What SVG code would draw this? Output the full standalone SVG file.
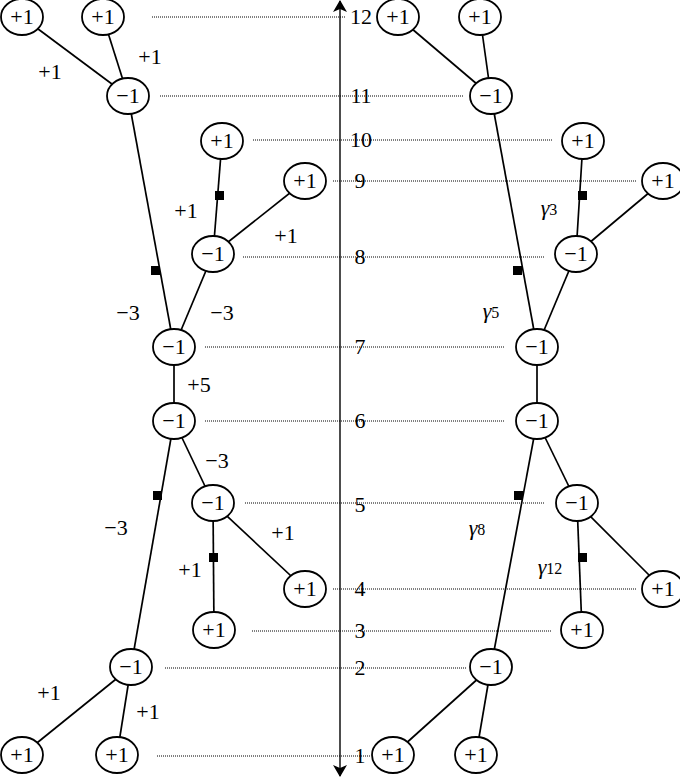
<svg xmlns="http://www.w3.org/2000/svg" width="680" height="784" viewBox="0 0 680 784">
<style>
.n ellipse{fill:#fff;stroke:#000;stroke-width:1.8}
.e line{stroke:#000;stroke-width:1.7}
.d line{stroke:#000;stroke-width:1;stroke-dasharray:1,1}
.sq{fill:#000}
text{font-family:"Liberation Serif","DejaVu Serif",serif;font-size:22px;text-anchor:middle;fill:#000}
</style>
<defs>
<marker id="ah" viewBox="0 0 12 20" refX="11" refY="10" markerWidth="12" markerHeight="20" markerUnits="userSpaceOnUse" orient="auto">
<path d="M0,3 L12,10 L0,17 L3,10 Z" fill="#000"/>
</marker>
</defs>
<g class="d">
<line x1="152" y1="17" x2="345" y2="17"/>
<line x1="160" y1="96" x2="463" y2="96"/>
<line x1="253" y1="140" x2="553" y2="140"/>
<line x1="333" y1="181" x2="636" y2="181"/>
<line x1="243" y1="257" x2="545" y2="257"/>
<line x1="205" y1="347" x2="505" y2="347"/>
<line x1="205" y1="421" x2="505" y2="421"/>
<line x1="245" y1="503" x2="545" y2="503"/>
<line x1="333" y1="589" x2="636" y2="589"/>
<line x1="252" y1="631" x2="552" y2="631"/>
<line x1="165" y1="668" x2="467" y2="668"/>
<line x1="157" y1="756" x2="371" y2="756"/>
</g>
<g id="axis">
<line x1="340" y1="392" x2="340" y2="1" stroke="#000" stroke-width="1.4" marker-end="url(#ah)"/>
<line x1="340" y1="392" x2="340" y2="776" stroke="#000" stroke-width="1.4" marker-end="url(#ah)"/>
<text x="361" y="24">12</text>
<text x="361" y="103">11</text>
<text x="361" y="147">10</text>
<text x="360" y="188">9</text>
<text x="360" y="264">8</text>
<text x="360" y="354">7</text>
<text x="360" y="428">6</text>
<text x="360" y="512">5</text>
<text x="360" y="596">4</text>
<text x="360" y="638">3</text>
<text x="360" y="675">2</text>
<text x="360" y="763">1</text>
</g>
<g class="e" id="connectors">
<line x1="22" y1="17" x2="128" y2="96"/>
<line x1="103" y1="17" x2="128" y2="96"/>
<line x1="128" y1="96" x2="174" y2="347"/>
<line x1="222" y1="141" x2="213" y2="254"/>
<line x1="305" y1="181" x2="213" y2="254"/>
<line x1="213" y1="254" x2="174" y2="347"/>
<line x1="174" y1="347" x2="174" y2="421"/>
<line x1="174" y1="421" x2="213" y2="503"/>
<line x1="174" y1="421" x2="131" y2="667"/>
<line x1="213" y1="503" x2="305" y2="589"/>
<line x1="213" y1="503" x2="214" y2="630"/>
<line x1="131" y1="667" x2="22" y2="755"/>
<line x1="131" y1="667" x2="117" y2="755"/>
<line x1="398" y1="17" x2="491" y2="96"/>
<line x1="480" y1="17" x2="491" y2="96"/>
<line x1="491" y1="96" x2="537" y2="347"/>
<line x1="583" y1="141" x2="576" y2="254"/>
<line x1="663" y1="181" x2="576" y2="254"/>
<line x1="576" y1="254" x2="537" y2="347"/>
<line x1="537" y1="347" x2="537" y2="421"/>
<line x1="537" y1="421" x2="577" y2="503"/>
<line x1="537" y1="421" x2="491" y2="667"/>
<line x1="577" y1="503" x2="663" y2="589"/>
<line x1="577" y1="503" x2="582" y2="630"/>
<line x1="491" y1="667" x2="393" y2="755"/>
<line x1="491" y1="667" x2="476" y2="755"/>
<rect class="sq" x="151" y="266" width="9" height="9"/>
<rect class="sq" x="215" y="191" width="9" height="9"/>
<rect class="sq" x="153" y="491" width="9" height="9"/>
<rect class="sq" x="209" y="553" width="9" height="9"/>
<rect class="sq" x="513" y="266" width="9" height="9"/>
<rect class="sq" x="578" y="191" width="9" height="9"/>
<rect class="sq" x="514" y="491" width="9" height="9"/>
<rect class="sq" x="578" y="553" width="9" height="9"/>
</g>
<g id="edge-labels">
<text x="50" y="79">+1</text>
<text x="150" y="64">+1</text>
<text x="128" y="320">−3</text>
<text x="186" y="218">+1</text>
<text x="286" y="243">+1</text>
<text x="222" y="320">−3</text>
<text x="199" y="392">+5</text>
<text x="217" y="468">−3</text>
<text x="116" y="535">−3</text>
<text x="283" y="540">+1</text>
<text x="190" y="577">+1</text>
<text x="49" y="700">+1</text>
<text x="148" y="719">+1</text>
<text x="549" y="215"><tspan font-style="italic">γ</tspan><tspan font-size="16">3</tspan></text>
<text x="491" y="318"><tspan font-style="italic">γ</tspan><tspan font-size="16">5</tspan></text>
<text x="477" y="535"><tspan font-style="italic">γ</tspan><tspan font-size="16">8</tspan></text>
<text x="550" y="574"><tspan font-style="italic">γ</tspan><tspan font-size="16">12</tspan></text>
</g>
<g class="n" id="L1"><ellipse cx="22" cy="17" rx="21" ry="18"/><text x="22" y="24">+1</text></g>
<g class="n" id="L2"><ellipse cx="103" cy="17" rx="21" ry="18"/><text x="103" y="24">+1</text></g>
<g class="n" id="L3"><ellipse cx="128" cy="96" rx="21" ry="18"/><text x="128" y="103">−1</text></g>
<g class="n" id="L4"><ellipse cx="222" cy="141" rx="21" ry="18"/><text x="222" y="148">+1</text></g>
<g class="n" id="L5"><ellipse cx="305" cy="181" rx="21" ry="18"/><text x="305" y="188">+1</text></g>
<g class="n" id="L6"><ellipse cx="213" cy="254" rx="21" ry="18"/><text x="213" y="261">−1</text></g>
<g class="n" id="L7"><ellipse cx="174" cy="347" rx="21" ry="18"/><text x="174" y="354">−1</text></g>
<g class="n" id="L8"><ellipse cx="174" cy="421" rx="21" ry="18"/><text x="174" y="428">−1</text></g>
<g class="n" id="L9"><ellipse cx="213" cy="503" rx="21" ry="18"/><text x="213" y="510">−1</text></g>
<g class="n" id="L10"><ellipse cx="305" cy="589" rx="21" ry="18"/><text x="305" y="596">+1</text></g>
<g class="n" id="L11"><ellipse cx="214" cy="630" rx="21" ry="18"/><text x="214" y="637">+1</text></g>
<g class="n" id="L12"><ellipse cx="131" cy="667" rx="21" ry="18"/><text x="131" y="674">−1</text></g>
<g class="n" id="L13"><ellipse cx="22" cy="755" rx="21" ry="18"/><text x="22" y="762">+1</text></g>
<g class="n" id="L14"><ellipse cx="117" cy="755" rx="21" ry="18"/><text x="117" y="762">+1</text></g>
<g class="n" id="R1"><ellipse cx="398" cy="17" rx="21" ry="18"/><text x="398" y="24">+1</text></g>
<g class="n" id="R2"><ellipse cx="480" cy="17" rx="21" ry="18"/><text x="480" y="24">+1</text></g>
<g class="n" id="R3"><ellipse cx="491" cy="96" rx="21" ry="18"/><text x="491" y="103">−1</text></g>
<g class="n" id="R4"><ellipse cx="583" cy="141" rx="21" ry="18"/><text x="583" y="148">+1</text></g>
<g class="n" id="R5"><ellipse cx="663" cy="181" rx="21" ry="18"/><text x="663" y="188">+1</text></g>
<g class="n" id="R6"><ellipse cx="576" cy="254" rx="21" ry="18"/><text x="576" y="261">−1</text></g>
<g class="n" id="R7"><ellipse cx="537" cy="347" rx="21" ry="18"/><text x="537" y="354">−1</text></g>
<g class="n" id="R8"><ellipse cx="537" cy="421" rx="21" ry="18"/><text x="537" y="428">−1</text></g>
<g class="n" id="R9"><ellipse cx="577" cy="503" rx="21" ry="18"/><text x="577" y="510">−1</text></g>
<g class="n" id="R10"><ellipse cx="663" cy="589" rx="21" ry="18"/><text x="663" y="596">+1</text></g>
<g class="n" id="R11"><ellipse cx="582" cy="630" rx="21" ry="18"/><text x="582" y="637">+1</text></g>
<g class="n" id="R12"><ellipse cx="491" cy="667" rx="21" ry="18"/><text x="491" y="674">−1</text></g>
<g class="n" id="R13"><ellipse cx="393" cy="755" rx="21" ry="18"/><text x="393" y="762">+1</text></g>
<g class="n" id="R14"><ellipse cx="476" cy="755" rx="21" ry="18"/><text x="476" y="762">+1</text></g>
</svg>
